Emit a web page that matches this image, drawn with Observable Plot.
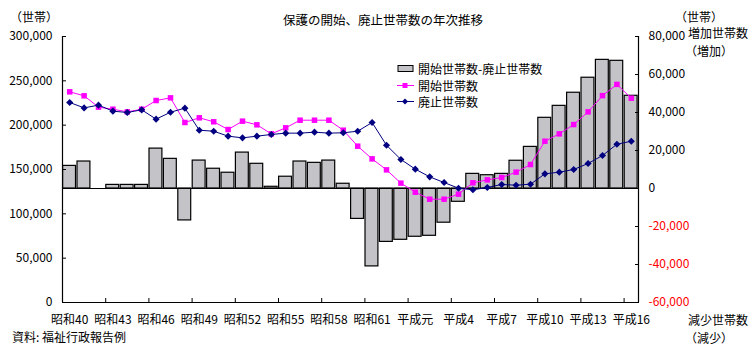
<!DOCTYPE html>
<html><head><meta charset="utf-8">
<script src="https://cdn.jsdelivr.net/npm/d3@7"></script>
<script src="https://cdn.jsdelivr.net/npm/@observablehq/plot@0.6"></script>
<style>
body{margin:0;background:#fff;}
#wrap{position:relative;width:754px;height:349px;font-family:"Noto Sans CJK JP",sans-serif;font-size:12px;color:#000;overflow:hidden;}
.t{position:absolute;white-space:nowrap;line-height:12px;}
#legend{position:absolute;left:0;top:0;}
</style></head><body><div id="wrap"></div>
<script>
// Years: 昭和40 (1965) … 平成16 (2004)
const yearIdx = d3.range(40);
const tickIdx = [0, 3, 6, 9, 12, 15, 18, 21, 24, 27, 30, 33, 36, 39];
const tickLabels = ["昭和40","昭和43","昭和46","昭和49","昭和52","昭和55","昭和58","昭和61","平成元","平成4","平成7","平成10","平成13","平成16"];

// 開始世帯数 (left axis)
const startHouseholds = [237600,233100,220300,218000,215000,218000,227800,230800,203000,208300,
  203800,195100,204500,200400,190200,197000,205600,205600,205600,194300,
  176300,162000,149600,134600,124400,116500,116500,122200,135000,138300,
  141000,147000,155600,181900,190200,200700,215000,233300,246000,230400];
// 廃止世帯数 (left axis)
const endHouseholds = [225600,219500,222600,215800,214300,217300,206800,214600,219200,194300,
  193200,187600,185700,187600,189500,191000,191000,192100,191000,191400,
  193200,203000,177400,161300,150400,141700,135300,128900,127100,129700,
  133100,132300,133400,145100,147000,150000,156800,165800,178500,181900];
// 開始世帯数-廃止世帯数 (right axis)
const diffHouseholds = [11900,14200,0,1900,1900,1900,21000,15600,-16800,14700,
  10400,8300,18900,13000,900,6200,14200,13500,14700,2500,
  -16000,-41000,-28100,-27000,-25400,-24900,-18000,-7000,7700,7000,
  7700,14600,21900,37200,43500,50400,58300,67700,67200,48800];

const leftTicks = [0,50000,100000,150000,200000,250000,300000];
const rightTicks = [-60000,-40000,-20000,0,20000,40000,60000,80000];
const leftDomain = [0, 300000];
const rightDomain = [-60000, 80000];

const toLeft = r => (r - rightDomain[0]) * (leftDomain[1] - leftDomain[0]) / (rightDomain[1] - rightDomain[0]);
const fmt = d3.format(",");
const fmtR = v => (v < 0 ? "-" : "") + fmt(Math.abs(v));

const chart = Plot.plot({
  width: 754, height: 349,
  marginLeft: 62, marginRight: 116, marginTop: 36, marginBottom: 47,
  x: {domain: [0, 40], axis: null},
  y: {domain: leftDomain, axis: null},
  style: {fontFamily: "'Noto Sans CJK JP', sans-serif", fontSize: "12px", background: "transparent", color: "#000"},
  marks: [
    Plot.rect(yearIdx, {x1: i => i, x2: i => i + 1, y1: () => toLeft(0), y2: i => toLeft(diffHouseholds[i]),
      fill: "#c4c3c8", stroke: "#000", strokeWidth: 1.2, insetLeft: 0.6, insetRight: 0.9}),
    Plot.ruleY([toLeft(0)], {stroke: "#000", strokeWidth: 1}),
    Plot.line(yearIdx, {x: i => i + 0.5, y: i => startHouseholds[i], stroke: "#ff00ff", strokeWidth: 1}),
    Plot.dot(yearIdx, {x: i => i + 0.5, y: i => startHouseholds[i], symbol: "square", fill: "#ff00ff", r: 3.1}),
    Plot.line(yearIdx, {x: i => i + 0.5, y: i => endHouseholds[i], stroke: "#000080", strokeWidth: 1}),
    Plot.dot(yearIdx, {x: i => i + 0.5, y: i => endHouseholds[i], symbol: "diamond2", fill: "#000080", r: 3.2}),
    Plot.ruleX([0, 40], {stroke: "#000", strokeWidth: 1.2}),
    Plot.ruleY([0], {stroke: "#000", strokeWidth: 1.2}),
    Plot.axisY(leftTicks, {anchor: "left", tickSize: -4, tickPadding: 14, tickFormat: fmt, fontSize: 12}),
    Plot.axisY(rightTicks.filter(v => v >= 0).map(toLeft), {anchor: "right", tickSize: -4, tickPadding: 14,
      tickFormat: v => fmtR(Math.round(v * 140000 / 300000 + rightDomain[0])), fontSize: 12}),
    Plot.axisY(rightTicks.filter(v => v < 0).map(toLeft), {anchor: "right", tickSize: -4, tickPadding: 14,
      tickFormat: v => fmtR(Math.round(v * 140000 / 300000 + rightDomain[0])), fill: "#ff0000", fontSize: 12}),
    Plot.axisX(tickIdx, {anchor: "bottom", tickSize: -4, tickFormat: () => ""}),
    Plot.axisX(tickIdx.map(i => i + 0.5), {anchor: "bottom", tickSize: 0, tickPadding: 13,
      tickFormat: (v, k) => tickLabels[k], fontSize: 12})
  ]
});

const wrap = document.getElementById("wrap");
wrap.appendChild(chart);

const texts = [
  {s: "（世帯）", x: 10, y: 11},
  {s: "保護の開始、廃止世帯数の年次推移", x: 283, y: 14, fs: 12.5},
  {s: "（世帯）", x: 675, y: 11},
  {s: "増加世帯数", x: 688, y: 27},
  {s: "（増加）", x: 685, y: 45},
  {s: "減少世帯数", x: 688, y: 314},
  {s: "（減少）", x: 685, y: 332}
  ,{s: "資料: 福祉行政報告例", x: 12, y: 331}
];
for (const t of texts) {
  const d = document.createElement("div");
  d.className = "t";
  d.textContent = t.s;
  d.style.left = t.x + "px";
  d.style.top = t.y + "px";
  if (t.fs) d.style.fontSize = t.fs + "px";
  wrap.appendChild(d);
}

// legend
const ns = "http://www.w3.org/2000/svg";
const lg = document.createElementNS(ns, "svg");
lg.setAttribute("id", "legend");
lg.setAttribute("width", 754); lg.setAttribute("height", 349);
lg.innerHTML = `
  <rect x="398" y="65.5" width="15" height="6" fill="#c4c3c8" stroke="#000" stroke-width="1"/>
  <text x="418" y="68.5" dominant-baseline="central" font-size="12" font-family="Noto Sans CJK JP">開始世帯数-廃止世帯数</text>
  <line x1="397" x2="414" y1="85.5" y2="85.5" stroke="#ff00ff" stroke-width="1"/>
  <rect x="402.5" y="83" width="5" height="5" fill="#ff00ff"/>
  <text x="418" y="85.5" dominant-baseline="central" font-size="12" font-family="Noto Sans CJK JP">開始世帯数</text>
  <line x1="397" x2="414" y1="101.5" y2="101.5" stroke="#000080" stroke-width="1"/>
  <path d="M405,98.5 L408,101.5 L405,104.5 L402,101.5 Z" fill="#000080"/>
  <text x="418" y="101.5" dominant-baseline="central" font-size="12" font-family="Noto Sans CJK JP">廃止世帯数</text>`;
wrap.appendChild(lg);
</script></body></html>
